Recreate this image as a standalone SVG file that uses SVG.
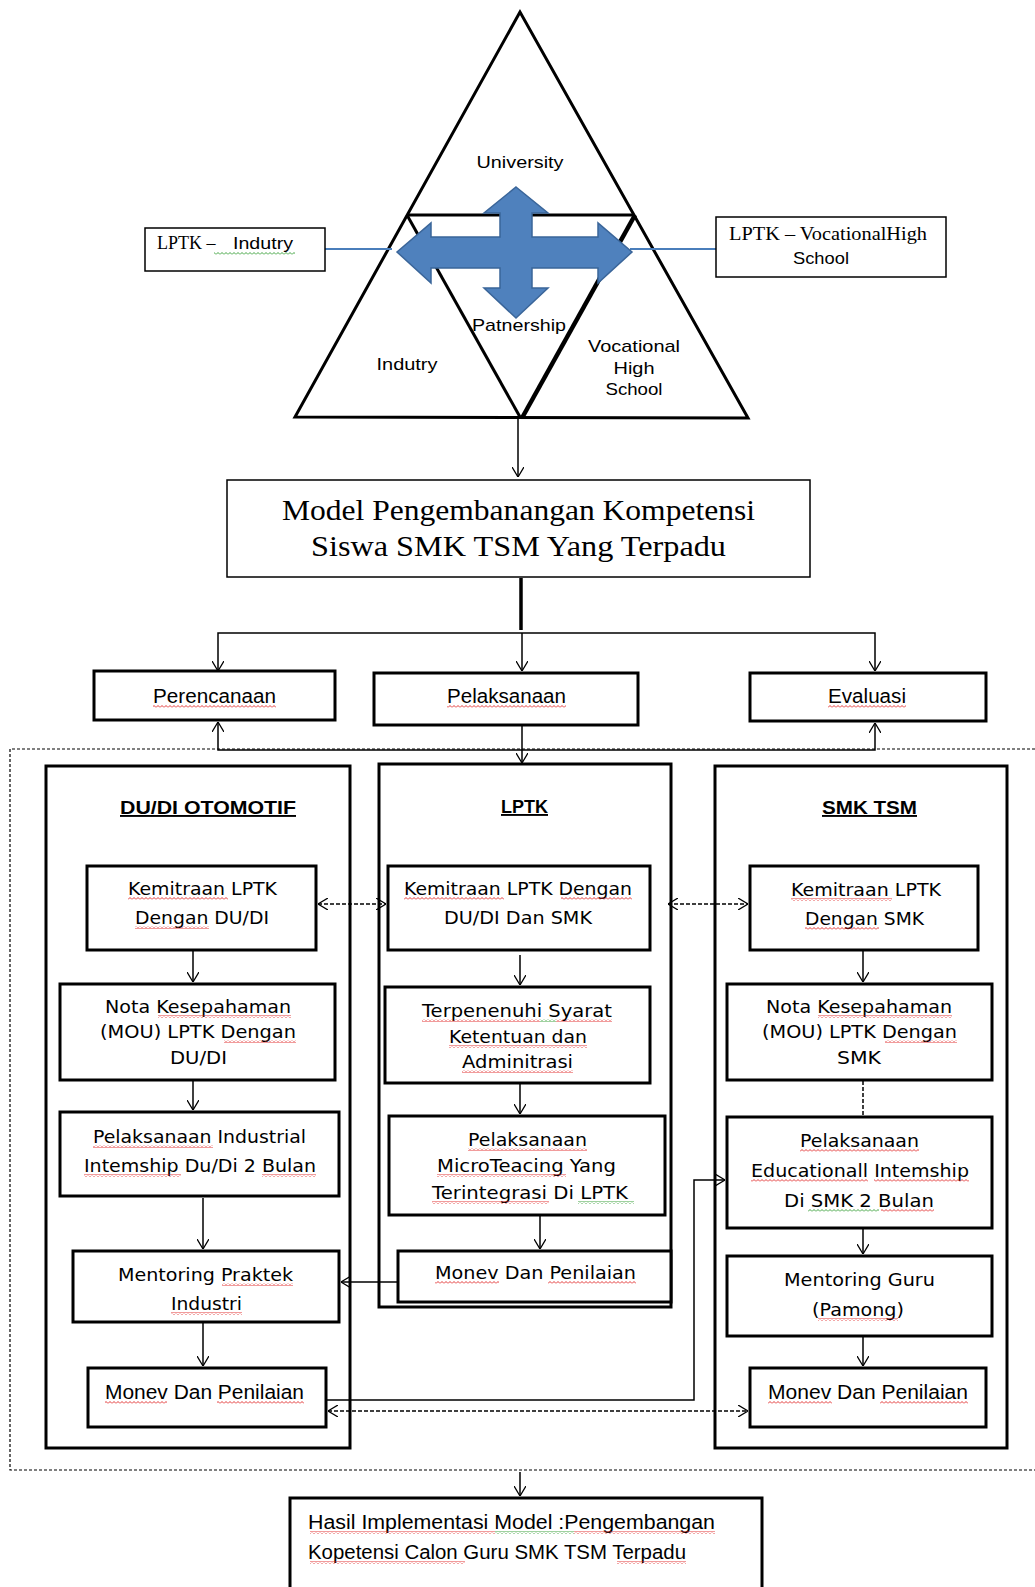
<svg xmlns="http://www.w3.org/2000/svg" width="1035" height="1587" viewBox="0 0 1035 1587">
<defs>
<style>
.bx{fill:#fff;stroke:#000;stroke-width:3}
.tb{fill:#fff;stroke:#000;stroke-width:1.5}
.ln{stroke:#000;stroke-width:1.5;fill:none}
.ds{stroke-dasharray:4 2}
.tri{fill:none;stroke:#000;stroke-width:3;stroke-linejoin:miter}
.v{font-family:"DejaVu Sans",sans-serif;font-size:17px;text-anchor:middle;fill:#000}
.c{font-family:"Liberation Sans",sans-serif;font-size:20px;text-anchor:middle;fill:#000}
.s{font-family:"Liberation Sans",sans-serif;font-size:17px;text-anchor:middle;fill:#000}
.h{font-family:"Liberation Sans",sans-serif;font-size:19px;font-weight:bold;text-anchor:middle;text-decoration:underline;fill:#000}
.sf{font-family:"Liberation Serif",serif;fill:#000}
.wr{fill:url(#wr)}
.wg{fill:url(#wg)}
</style>
<pattern id="wr" width="4" height="3" patternUnits="userSpaceOnUse"><path d="M0,2.5 L2,0.5 L4,2.5" fill="none" stroke="#e02020" stroke-width="0.9"/></pattern>
<pattern id="wg" width="4" height="3" patternUnits="userSpaceOnUse"><path d="M0,2.5 L2,0.5 L4,2.5" fill="none" stroke="#2a9a2a" stroke-width="0.9"/></pattern>
<marker id="ah" viewBox="0 0 10 12" refX="10" refY="6" markerWidth="10" markerHeight="12" markerUnits="userSpaceOnUse" orient="auto-start-reverse"><path d="M0,0 L10,6 L0,12" fill="none" stroke="#000" stroke-width="1.3"/></marker>
</defs>
<rect width="1035" height="1587" fill="#fff"/>

<g id="triangle">
<polygon class="tri" points="520,12 295,417 748,418"/>
<line class="tri" x1="407" y1="215" x2="633" y2="215"/>
<line class="tri" x1="407" y1="215" x2="520" y2="417"/>
<line x1="635" y1="215" x2="522" y2="418" stroke="#000" stroke-width="4.5"/>
<line x1="325" y1="249" x2="392" y2="249" stroke="#4a7ebb" stroke-width="2"/>
<line x1="630" y1="249" x2="716" y2="249" stroke="#4a7ebb" stroke-width="2"/>
<polygon points="516,187 548,213 532,213 532,237 598,237 598,223 632,252 598,283 598,268 532,268 532,288 548,288 516,318 484,288 500,288 500,268 431,268 431,283 397,252 431,223 431,237 500,237 500,213 484,213" fill="#4f81bd" stroke="#3a6599" stroke-width="1.5"/>
<text class="s" x="520" y="168" textLength="87" lengthAdjust="spacingAndGlyphs">University</text>
<text class="s" x="519" y="331" textLength="94" lengthAdjust="spacingAndGlyphs">Patnership</text>
<text class="s" x="407" y="370" textLength="61" lengthAdjust="spacingAndGlyphs">Indutry</text>
<text class="s" x="634" y="352" textLength="92" lengthAdjust="spacingAndGlyphs">Vocational</text>
<text class="s" x="634" y="374" textLength="41" lengthAdjust="spacingAndGlyphs">High</text>
<text class="s" x="634" y="395" textLength="57" lengthAdjust="spacingAndGlyphs">School</text>
</g>

<g id="lptk-industry">
<rect class="tb" x="145" y="228" width="180" height="43"/>
<text class="sf" x="157" y="249" font-size="18">LPTK – </text>
<text class="s" x="263" y="249" textLength="60" lengthAdjust="spacingAndGlyphs">Indutry</text>
<rect class="wg" x="214" y="252" width="81" height="3"/>
</g>

<g id="lptk-vocational">
<rect class="tb" x="716" y="217" width="230" height="60"/>
<text class="sf" x="729" y="240" font-size="18" textLength="198" lengthAdjust="spacingAndGlyphs">LPTK – VocationalHigh</text>
<text class="s" x="821" y="264" textLength="56" lengthAdjust="spacingAndGlyphs">School</text>
</g>

<g id="model">
<rect class="tb" x="227" y="480" width="583" height="97" stroke-width="2"/>
<text class="sf" x="518.5" y="520" font-size="30" text-anchor="middle" textLength="473" lengthAdjust="spacingAndGlyphs">Model Pengembanangan Kompetensi</text>
<text class="sf" x="518.5" y="556" font-size="30" text-anchor="middle" textLength="415" lengthAdjust="spacingAndGlyphs">Siswa SMK TSM Yang Terpadu</text>
</g>

<g id="perencanaan">
<rect class="bx" x="94" y="671" width="241" height="49"/>
<text class="c" x="214.5" y="703" textLength="123" lengthAdjust="spacingAndGlyphs">Perencanaan</text>
<rect class="wr" x="153" y="705" width="123" height="3"/>
</g>
<g id="pelaksanaan">
<rect class="bx" x="374" y="673" width="264" height="52"/>
<text class="c" x="506.5" y="703" textLength="119" lengthAdjust="spacingAndGlyphs">Pelaksanaan</text>
<rect class="wr" x="447" y="705" width="119" height="3"/>
</g>
<g id="evaluasi">
<rect class="bx" x="750" y="673" width="236" height="48"/>
<text class="c" x="867" y="703" textLength="78" lengthAdjust="spacingAndGlyphs">Evaluasi</text>
<rect class="wr" x="828" y="705" width="78" height="3"/>
</g>

<g id="scope">
<path d="M1040,749 H10 V1470 H1040" fill="none" stroke="#000" stroke-width="1.2" stroke-dasharray="3 2"/>
</g>

<g id="col-dudi">
<rect class="bx" x="46" y="766" width="304" height="682"/>
<text class="h" x="208" y="814" textLength="176" lengthAdjust="spacingAndGlyphs">DU/DI OTOMOTIF</text>
</g>
<g id="col-lptk">
<rect class="bx" x="379" y="764" width="292" height="543"/>
<text class="h" x="524.5" y="813" textLength="47" lengthAdjust="spacingAndGlyphs">LPTK</text>
</g>
<g id="col-smk">
<rect class="bx" x="715" y="766" width="292" height="682"/>
<text class="h" x="869.5" y="814" textLength="95" lengthAdjust="spacingAndGlyphs">SMK TSM</text>
</g>

<g id="d1">
<rect class="bx" x="87" y="866" width="229" height="84"/>
<text class="v" x="202.5" y="895" textLength="149" lengthAdjust="spacingAndGlyphs">Kemitraan LPTK</text>
<text class="v" x="202" y="924" textLength="134" lengthAdjust="spacingAndGlyphs">Dengan DU/DI</text>
<rect class="wr" x="128" y="897" width="100" height="3"/><rect class="wr" x="135" y="926" width="74" height="3"/>
</g>
<g id="d2">
<rect class="bx" x="60" y="984" width="275" height="96"/>
<text class="v" x="198" y="1013" textLength="186" lengthAdjust="spacingAndGlyphs">Nota Kesepahaman</text>
<text class="v" x="198" y="1038" textLength="196" lengthAdjust="spacingAndGlyphs">(MOU) LPTK Dengan</text>
<text class="v" x="198.5" y="1064" textLength="57" lengthAdjust="spacingAndGlyphs">DU/DI</text>
<rect class="wr" x="158" y="1015" width="133" height="3"/><rect class="wr" x="224" y="1040" width="72" height="3"/>
</g>
<g id="d3">
<rect class="bx" x="60" y="1112" width="279" height="84"/>
<text class="v" x="199.5" y="1143" textLength="213" lengthAdjust="spacingAndGlyphs">Pelaksanaan Industrial</text>
<text class="v" x="200" y="1172" textLength="232" lengthAdjust="spacingAndGlyphs">Intemship Du/Di 2 Bulan</text>
<rect class="wr" x="93" y="1145" width="120" height="3"/><rect class="wr" x="84" y="1174" width="97" height="3"/><rect class="wr" x="262" y="1174" width="54" height="3"/>
</g>
<g id="d4">
<rect class="bx" x="73" y="1251" width="266" height="71"/>
<text class="v" x="205.5" y="1281" textLength="175" lengthAdjust="spacingAndGlyphs">Mentoring Praktek</text>
<text class="v" x="206.5" y="1310" textLength="71" lengthAdjust="spacingAndGlyphs">Industri</text>
<rect class="wr" x="222" y="1283" width="71" height="3"/><rect class="wr" x="171" y="1312" width="71" height="3"/>
</g>
<g id="d5">
<rect class="bx" x="88" y="1368" width="238" height="59"/>
<text class="c" x="204.5" y="1399" textLength="199" lengthAdjust="spacingAndGlyphs">Monev Dan Penilaian</text>
<rect class="wr" x="105" y="1401" width="62" height="3"/><rect class="wr" x="217" y="1401" width="87" height="3"/>
</g>

<g id="l1">
<rect class="bx" x="388" y="866" width="262" height="84"/>
<text class="v" x="518" y="895" textLength="228" lengthAdjust="spacingAndGlyphs">Kemitraan LPTK Dengan</text>
<text class="v" x="518" y="924" textLength="148" lengthAdjust="spacingAndGlyphs">DU/DI Dan SMK</text>
<rect class="wr" x="404" y="897" width="100" height="3"/><rect class="wr" x="561" y="897" width="71" height="3"/>
</g>
<g id="l2">
<rect class="bx" x="385" y="987" width="265" height="96"/>
<text class="v" x="517" y="1017" textLength="190" lengthAdjust="spacingAndGlyphs">Terpenenuhi  Syarat</text>
<text class="v" x="518" y="1043" textLength="138" lengthAdjust="spacingAndGlyphs">Ketentuan dan</text>
<text class="v" x="517.5" y="1068" textLength="111" lengthAdjust="spacingAndGlyphs">Adminitrasi</text>
<rect class="wr" x="422" y="1019" width="118" height="3"/><rect class="wg" x="540" y="1019" width="16" height="3"/><rect class="wr" x="556" y="1019" width="56" height="3"/>
<rect class="wr" x="449" y="1045" width="138" height="3"/><rect class="wr" x="462" y="1070" width="111" height="3"/>
</g>
<g id="l3">
<rect class="bx" x="389" y="1116" width="276" height="99"/>
<text class="v" x="527.5" y="1146" textLength="119" lengthAdjust="spacingAndGlyphs">Pelaksanaan</text>
<text class="v" x="526.5" y="1172" textLength="179" lengthAdjust="spacingAndGlyphs">MicroTeacing Yang</text>
<text class="v" x="530" y="1199" textLength="196" lengthAdjust="spacingAndGlyphs">Terintegrasi Di LPTK</text>
<rect class="wr" x="468" y="1148" width="119" height="3"/><rect class="wr" x="437" y="1174" width="129" height="3"/>
<rect class="wr" x="432" y="1201" width="117" height="3"/><rect class="wg" x="578" y="1201" width="56" height="3"/>
</g>
<g id="l4">
<rect class="bx" x="398" y="1251" width="273" height="51"/>
<text class="v" x="535.5" y="1279" textLength="201" lengthAdjust="spacingAndGlyphs">Monev Dan Penilaian</text>
<rect class="wr" x="435" y="1281" width="64" height="3"/><rect class="wr" x="548" y="1281" width="88" height="3"/>
</g>

<g id="s1">
<rect class="bx" x="750" y="866" width="228" height="84"/>
<text class="v" x="866" y="896" textLength="150" lengthAdjust="spacingAndGlyphs">Kemitraan LPTK</text>
<text class="v" x="864.5" y="925" textLength="119" lengthAdjust="spacingAndGlyphs">Dengan SMK</text>
<rect class="wr" x="791" y="898" width="101" height="3"/><rect class="wr" x="805" y="927" width="74" height="3"/>
</g>
<g id="s2">
<rect class="bx" x="727" y="984" width="265" height="96"/>
<text class="v" x="859" y="1013" textLength="186" lengthAdjust="spacingAndGlyphs">Nota Kesepahaman</text>
<text class="v" x="859.5" y="1038" textLength="195" lengthAdjust="spacingAndGlyphs">(MOU) LPTK Dengan</text>
<text class="v" x="859" y="1064" textLength="44" lengthAdjust="spacingAndGlyphs">SMK</text>
<rect class="wr" x="818" y="1015" width="134" height="3"/><rect class="wr" x="885" y="1040" width="72" height="3"/>
</g>
<g id="s3">
<rect class="bx" x="727" y="1117" width="265" height="111"/>
<text class="v" x="859.5" y="1147" textLength="119" lengthAdjust="spacingAndGlyphs">Pelaksanaan</text>
<text class="v" x="860" y="1177" textLength="218" lengthAdjust="spacingAndGlyphs">Educationall Intemship</text>
<text class="v" x="859" y="1207" textLength="150" lengthAdjust="spacingAndGlyphs">Di SMK  2 Bulan</text>
<rect class="wr" x="800" y="1149" width="119" height="3"/><rect class="wr" x="751" y="1179" width="117" height="3"/><rect class="wr" x="874" y="1179" width="95" height="3"/>
<rect class="wg" x="808" y="1209" width="71" height="3"/><rect class="wr" x="881" y="1209" width="53" height="3"/>
</g>
<g id="s4">
<rect class="bx" x="727" y="1256" width="265" height="80"/>
<text class="v" x="859.5" y="1286" textLength="151" lengthAdjust="spacingAndGlyphs">Mentoring Guru</text>
<text class="v" x="858" y="1316" textLength="92" lengthAdjust="spacingAndGlyphs">(Pamong)</text>
<rect class="wr" x="818" y="1318" width="80" height="3"/>
</g>
<g id="s5">
<rect class="bx" x="750" y="1368" width="236" height="59"/>
<text class="c" x="868" y="1399" textLength="200" lengthAdjust="spacingAndGlyphs">Monev Dan Penilaian</text>
<rect class="wr" x="768" y="1401" width="64" height="3"/><rect class="wr" x="880" y="1401" width="88" height="3"/>
</g>

<g id="hasil">
<rect class="bx" x="290" y="1498" width="472" height="100"/>
<text class="c" x="308" y="1529" style="text-anchor:start" textLength="407" lengthAdjust="spacingAndGlyphs">Hasil Implementasi Model  :Pengembangan</text>
<text class="c" x="308" y="1559" style="text-anchor:start" textLength="378" lengthAdjust="spacingAndGlyphs">Kopetensi Calon Guru SMK TSM Terpadu</text>
<rect class="wr" x="310" y="1531" width="185" height="3"/><rect class="wg" x="495" y="1531" width="79" height="3"/><rect class="wr" x="574" y="1531" width="141" height="3"/>
<rect class="wr" x="310" y="1561" width="155" height="3"/><rect class="wr" x="617" y="1561" width="69" height="3"/>
</g>

<g id="connectors">
<line class="ln" x1="518" y1="419" x2="518" y2="477" marker-end="url(#ah)"/>
<line x1="521" y1="578" x2="521" y2="630" stroke="#000" stroke-width="3.5"/>
<path class="ln" d="M218,671 V633 H875 V671" marker-start="url(#ah)" marker-end="url(#ah)"/>
<line class="ln" x1="522" y1="633" x2="522" y2="671" marker-end="url(#ah)"/>
<path class="ln" d="M218,722 V750 H875 V723" stroke-width="2" marker-start="url(#ah)" marker-end="url(#ah)"/>
<line class="ln" x1="522" y1="726" x2="522" y2="763" marker-end="url(#ah)"/>
<line class="ln" x1="193" y1="951" x2="193" y2="982" marker-end="url(#ah)"/>
<line class="ln" x1="193" y1="1081" x2="193" y2="1110" marker-end="url(#ah)"/>
<line class="ln" x1="203" y1="1198" x2="203" y2="1249" marker-end="url(#ah)"/>
<line class="ln" x1="203" y1="1323" x2="203" y2="1366" marker-end="url(#ah)"/>
<line class="ln" x1="520" y1="955" x2="520" y2="985" marker-end="url(#ah)"/>
<line class="ln" x1="520" y1="1084" x2="520" y2="1114" marker-end="url(#ah)"/>
<line class="ln" x1="540" y1="1216" x2="540" y2="1249" marker-end="url(#ah)"/>
<line class="ln" x1="863" y1="951" x2="863" y2="982" marker-end="url(#ah)"/>
<line class="ln ds" x1="863" y1="1081" x2="863" y2="1116"/>
<line class="ln" x1="863" y1="1229" x2="863" y2="1254" marker-end="url(#ah)"/>
<line class="ln" x1="863" y1="1337" x2="863" y2="1366" marker-end="url(#ah)"/>
<line class="ln ds" x1="318" y1="904" x2="386" y2="904" marker-start="url(#ah)" marker-end="url(#ah)"/>
<line class="ln ds" x1="668" y1="904" x2="748" y2="904" marker-start="url(#ah)" marker-end="url(#ah)"/>
<line class="ln" x1="397" y1="1282" x2="341" y2="1282" marker-end="url(#ah)"/>
<path class="ln" d="M327,1400 H694 V1180 H725" marker-end="url(#ah)"/>
<line class="ln ds" x1="328" y1="1411" x2="748" y2="1411" stroke-width="2" marker-start="url(#ah)" marker-end="url(#ah)"/>
<line class="ln" x1="520" y1="1472" x2="520" y2="1496" marker-end="url(#ah)"/>
</g>
</svg>
